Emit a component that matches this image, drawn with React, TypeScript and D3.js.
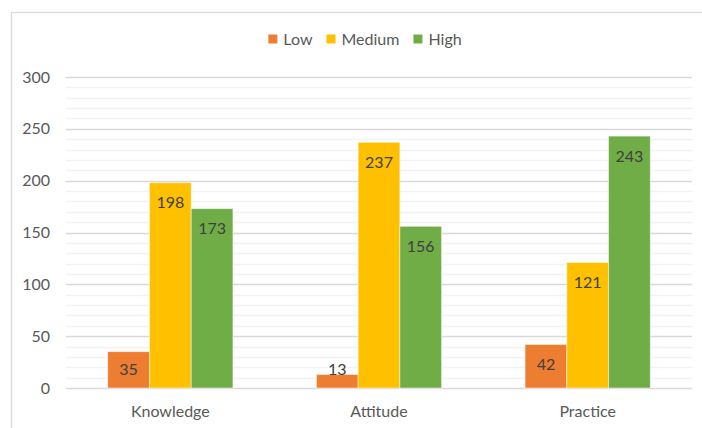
import React, { useEffect, useRef } from "react";
import * as d3 from "d3";

const categories = ["Knowledge", "Attitude", "Practice"];
const seriesNames = ["Low", "Medium", "High"];
const lowValues = [35, 13, 42];
const mediumValues = [198, 237, 121];
const highValues = [173, 156, 243];
const yTicks = [0, 50, 100, 150, 200, 250, 300];

const W = 702;
const H = 428;
const COLORS = ["#ED7D31", "#FFC000", "#70AD47"];
const FONT = "Lato, 'Open Sans', sans-serif";

const App = () => {
  const svgRef = useRef<SVGSVGElement>(null);

  useEffect(() => {
    const svg = d3.select(svgRef.current);
    svg.selectAll("*").remove();

    const series = [lowValues, mediumValues, highValues];
    const left = 66;
    const right = 692;
    const top = 77;
    const bottom = 388;

    // chart frame (runs off the right and bottom edges)
    svg
      .append("rect")
      .attr("x", 11.5)
      .attr("y", 12.5)
      .attr("width", W + 20)
      .attr("height", H + 20)
      .attr("fill", "#fff")
      .attr("stroke", "#D9D9D9")
      .attr("stroke-width", 1.3);

    const y = d3.scaleLinear().domain([0, 300]).range([bottom, top]);
    const x0 = d3
      .scaleBand<string>()
      .domain(categories)
      .range([left, right])
      .paddingInner(0.4)
      .paddingOuter(0.2);
    const x1 = d3
      .scaleBand<string>()
      .domain(seriesNames)
      .range([0, x0.bandwidth()]);

    // minor gridlines
    svg
      .append("g")
      .selectAll("line")
      .data(d3.range(10, 300, 10).filter(v => v % 50 !== 0))
      .enter()
      .append("line")
      .attr("x1", left)
      .attr("x2", right)
      .attr("y1", d => Math.round(y(d)) + 0.5)
      .attr("y2", d => Math.round(y(d)) + 0.5)
      .attr("stroke", "#F2F2F2")
      .attr("stroke-width", 1.3);

    // major gridlines
    svg
      .append("g")
      .selectAll("line")
      .data(yTicks)
      .enter()
      .append("line")
      .attr("x1", left)
      .attr("x2", right)
      .attr("y1", d => Math.round(y(d)) + 0.5)
      .attr("y2", d => Math.round(y(d)) + 0.5)
      .attr("stroke", "#D9D9D9")
      .attr("stroke-width", 1.3);

    // y tick labels
    svg
      .append("g")
      .selectAll("text")
      .data(yTicks)
      .enter()
      .append("text")
      .attr("x", 50)
      .attr("y", d => y(d))
      .attr("dy", "0.35em")
      .attr("text-anchor", "end")
      .attr("font-family", FONT)
      .attr("font-size", 16)
      .attr("fill", "#595959")
      .text(d => d);

    // bars
    const groups = svg
      .append("g")
      .selectAll("g")
      .data(categories)
      .enter()
      .append("g")
      .attr("transform", d => `translate(${x0(d)},0)`);

    groups
      .selectAll("rect")
      .data((d, ci) => seriesNames.map((s, si) => ({ s, si, v: series[si][ci] })))
      .enter()
      .append("rect")
      .attr("x", d => x1(d.s)!)
      .attr("y", d => y(d.v))
      .attr("width", x1.bandwidth())
      .attr("height", d => y(0) - y(d.v))
      .attr("fill", d => COLORS[d.si])
      .attr("stroke", "#fff")
      .attr("stroke-opacity", 0.6)
      .attr("stroke-width", 0.8);

    groups
      .selectAll("text")
      .data((d, ci) => seriesNames.map((s, si) => ({ s, si, v: series[si][ci] })))
      .enter()
      .append("text")
      .attr("x", d => x1(d.s)! + x1.bandwidth() / 2)
      .attr("y", d => Math.min(y(d.v) + 20, y(0) - 19))
      .attr("dy", "0.35em")
      .attr("text-anchor", "middle")
      .attr("font-family", FONT)
      .attr("font-size", 16)
      .attr("fill", "#404040")
      .text(d => d.v);

    // x labels
    svg
      .append("g")
      .selectAll("text")
      .data(categories)
      .enter()
      .append("text")
      .attr("x", d => x0(d)! + x0.bandwidth() / 2)
      .attr("y", 411)
      .attr("dy", "0.35em")
      .attr("text-anchor", "middle")
      .attr("font-family", FONT)
      .attr("font-size", 16)
      .attr("fill", "#595959")
      .text(d => d);

    // legend
    const legend = svg.append("g");
    const items = legend
      .selectAll("g")
      .data(seriesNames)
      .enter()
      .append("g");
    items
      .append("rect")
      .attr("width", 9)
      .attr("height", 9)
      .attr("y", -5)
      .attr("fill", (d, i) => COLORS[i]);
    const labels = items
      .append("text")
      .attr("x", 15)
      .attr("dy", "0.35em")
      .attr("font-family", FONT)
      .attr("font-size", 16)
      .attr("fill", "#595959")
      .text(d => d);

    const widths = labels.nodes().map(n => 15 + (n as SVGTextElement).getComputedTextLength());
    const gap = 14;
    const total = d3.sum(widths) + gap * (widths.length - 1);
    let cx = 365 - total / 2;
    items.attr("transform", (d, i) => {
      const t = `translate(${cx},39.5)`;
      cx += widths[i] + gap;
      return t;
    });
  }, []);

  return (
    <svg
      ref={svgRef}
      width={W}
      height={H}
      style={{ position: "absolute", left: 0, top: 0, background: "#fff" }}
    />
  );
};

export default App;
